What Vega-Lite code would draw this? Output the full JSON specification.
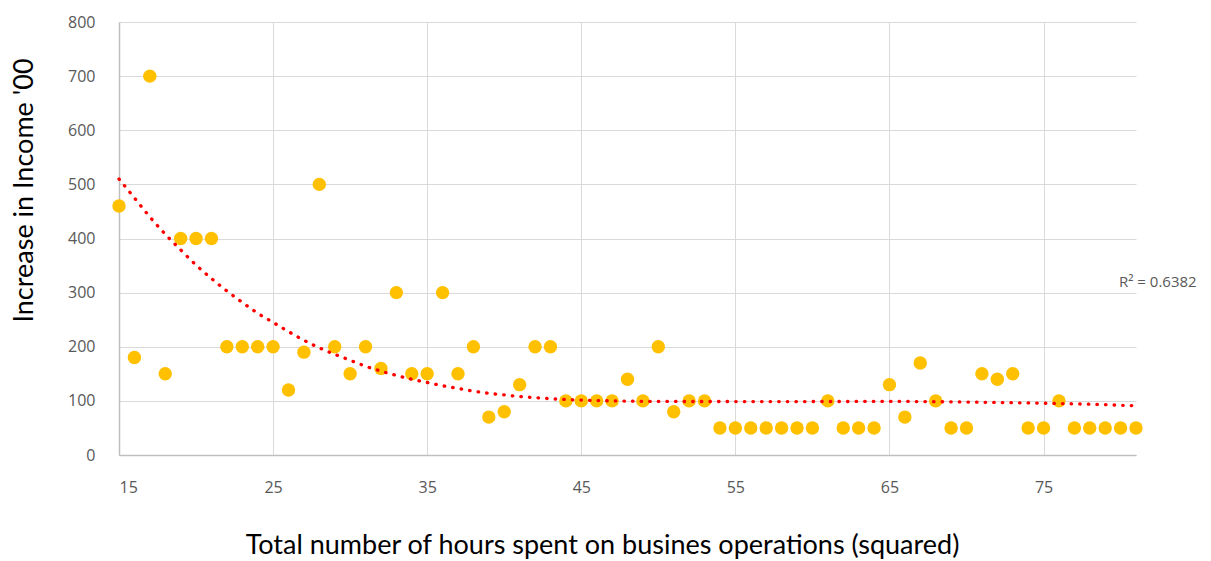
{
  "$schema": "https://vega.github.io/schema/vega-lite/v6.json",
  "width": 1017,
  "height": 433,
  "autosize": {"type": "none"},
  "padding": {"left": 119, "top": 22, "right": 75, "bottom": 106},
  "background": "white",
  "config": {"view": {"stroke": null}},
  "datasets": {
    "points": [
      {"hours": 15, "income": 460}, {"hours": 16, "income": 180}, {"hours": 17, "income": 700},
      {"hours": 18, "income": 150}, {"hours": 19, "income": 400}, {"hours": 20, "income": 400},
      {"hours": 21, "income": 400}, {"hours": 22, "income": 200}, {"hours": 23, "income": 200},
      {"hours": 24, "income": 200}, {"hours": 25, "income": 200}, {"hours": 26, "income": 120},
      {"hours": 27, "income": 190}, {"hours": 28, "income": 500}, {"hours": 29, "income": 200},
      {"hours": 30, "income": 150}, {"hours": 31, "income": 200}, {"hours": 32, "income": 160},
      {"hours": 33, "income": 300}, {"hours": 34, "income": 150}, {"hours": 35, "income": 150},
      {"hours": 36, "income": 300}, {"hours": 37, "income": 150}, {"hours": 38, "income": 200},
      {"hours": 39, "income": 70}, {"hours": 40, "income": 80}, {"hours": 41, "income": 130},
      {"hours": 42, "income": 200}, {"hours": 43, "income": 200}, {"hours": 44, "income": 100},
      {"hours": 45, "income": 100}, {"hours": 46, "income": 100}, {"hours": 47, "income": 100},
      {"hours": 48, "income": 140}, {"hours": 49, "income": 100}, {"hours": 50, "income": 200},
      {"hours": 51, "income": 80}, {"hours": 52, "income": 100}, {"hours": 53, "income": 100},
      {"hours": 54, "income": 50}, {"hours": 55, "income": 50}, {"hours": 56, "income": 50},
      {"hours": 57, "income": 50}, {"hours": 58, "income": 50}, {"hours": 59, "income": 50},
      {"hours": 60, "income": 50}, {"hours": 61, "income": 100}, {"hours": 62, "income": 50},
      {"hours": 63, "income": 50}, {"hours": 64, "income": 50}, {"hours": 65, "income": 130},
      {"hours": 66, "income": 70}, {"hours": 67, "income": 170}, {"hours": 68, "income": 100},
      {"hours": 69, "income": 50}, {"hours": 70, "income": 50}, {"hours": 71, "income": 150},
      {"hours": 72, "income": 140}, {"hours": 73, "income": 150}, {"hours": 74, "income": 50},
      {"hours": 75, "income": 50}, {"hours": 76, "income": 100}, {"hours": 77, "income": 50},
      {"hours": 78, "income": 50}, {"hours": 79, "income": 50}, {"hours": 80, "income": 50},
      {"hours": 81, "income": 50}
    ],
    "trend": [
      {"hours": 15, "income": 510}, {"hours": 16, "income": 475}, {"hours": 17, "income": 440},
      {"hours": 18, "income": 408}, {"hours": 19, "income": 379}, {"hours": 20, "income": 351},
      {"hours": 21, "income": 326}, {"hours": 22, "income": 303}, {"hours": 23, "income": 282},
      {"hours": 24, "income": 262}, {"hours": 25, "income": 245}, {"hours": 26, "income": 228},
      {"hours": 27, "income": 212}, {"hours": 28, "income": 198}, {"hours": 29, "income": 186},
      {"hours": 30, "income": 175}, {"hours": 31, "income": 164}, {"hours": 32, "income": 155},
      {"hours": 33, "income": 147}, {"hours": 34, "income": 140}, {"hours": 35, "income": 134},
      {"hours": 36, "income": 128}, {"hours": 37, "income": 123}, {"hours": 38, "income": 118},
      {"hours": 39, "income": 114}, {"hours": 40, "income": 111}, {"hours": 41, "income": 108},
      {"hours": 42, "income": 106}, {"hours": 43, "income": 104}, {"hours": 44, "income": 102.5},
      {"hours": 45, "income": 101.5}, {"hours": 47, "income": 100}, {"hours": 50, "income": 99},
      {"hours": 55, "income": 98.8}, {"hours": 60, "income": 98.8}, {"hours": 65, "income": 99},
      {"hours": 68, "income": 98.5}, {"hours": 72, "income": 97}, {"hours": 75, "income": 95.7},
      {"hours": 78, "income": 93.8}, {"hours": 81, "income": 91}
    ]
  },
  "layer": [
    {
      "data": {"name": "points"},
      "mark": {"type": "point", "filled": true, "size": 180, "color": "#FFC000", "opacity": 1},
      "encoding": {
        "x": {
          "field": "hours", "type": "quantitative",
          "scale": {"domain": [15, 81], "nice": false, "zero": false},
          "axis": {
            "values": [15, 25, 35, 45, 55, 65, 75],
            "grid": true, "gridColor": "#D9D9D9", "gridWidth": 1,
            "domainColor": "#BFBFBF", "domainWidth": 1.5,
            "ticks": false,
            "labelPadding": 24, "labelFontSize": 16, "labelColor": "#595959", "labelFont": "Open Sans",
            "title": "Total number of hours spent on busines operations (squared)",
            "titleFont": "Lato", "titleFontSize": 27, "titleFontWeight": "normal", "titleColor": "#000000",
            "titleX": 483, "titleY": 90, "titleAlign": "center", "titleBaseline": "middle", "titleAnchor": null
          }
        },
        "y": {
          "field": "income", "type": "quantitative",
          "scale": {"domain": [0, 800], "nice": false},
          "axis": {
            "values": [0, 100, 200, 300, 400, 500, 600, 700, 800],
            "grid": true, "gridColor": "#D9D9D9", "gridWidth": 1,
            "domainColor": "#BFBFBF", "domainWidth": 1.5,
            "ticks": false,
            "labelPadding": 24, "labelFontSize": 16, "labelColor": "#595959", "labelFont": "Open Sans",
            "title": "Increase in Income '00",
            "titleFont": "Lato", "titleFontSize": 27, "titleFontWeight": "normal", "titleColor": "#000000",
            "titleX": -95, "titleY": 168, "titleAngle": -90, "titleAlign": "center", "titleBaseline": "middle", "titleAnchor": null
          }
        }
      }
    },
    {
      "data": {"name": "trend"},
      "mark": {"type": "line", "color": "#FF0000", "strokeWidth": 3.3, "strokeDash": [0.5, 8.1], "strokeCap": "round", "interpolate": "monotone"},
      "encoding": {
        "x": {"field": "hours", "type": "quantitative"},
        "y": {"field": "income", "type": "quantitative"}
      }
    },
    {
      "data": {"values": [{}]},
      "mark": {"type": "text", "text": "R² = 0.6382", "align": "left", "baseline": "middle", "dx": -17, "font": "Open Sans", "fontSize": 15, "color": "#595959"},
      "encoding": {
        "x": {"datum": 81, "type": "quantitative"},
        "y": {"datum": 320, "type": "quantitative"}
      }
    }
  ]
}
